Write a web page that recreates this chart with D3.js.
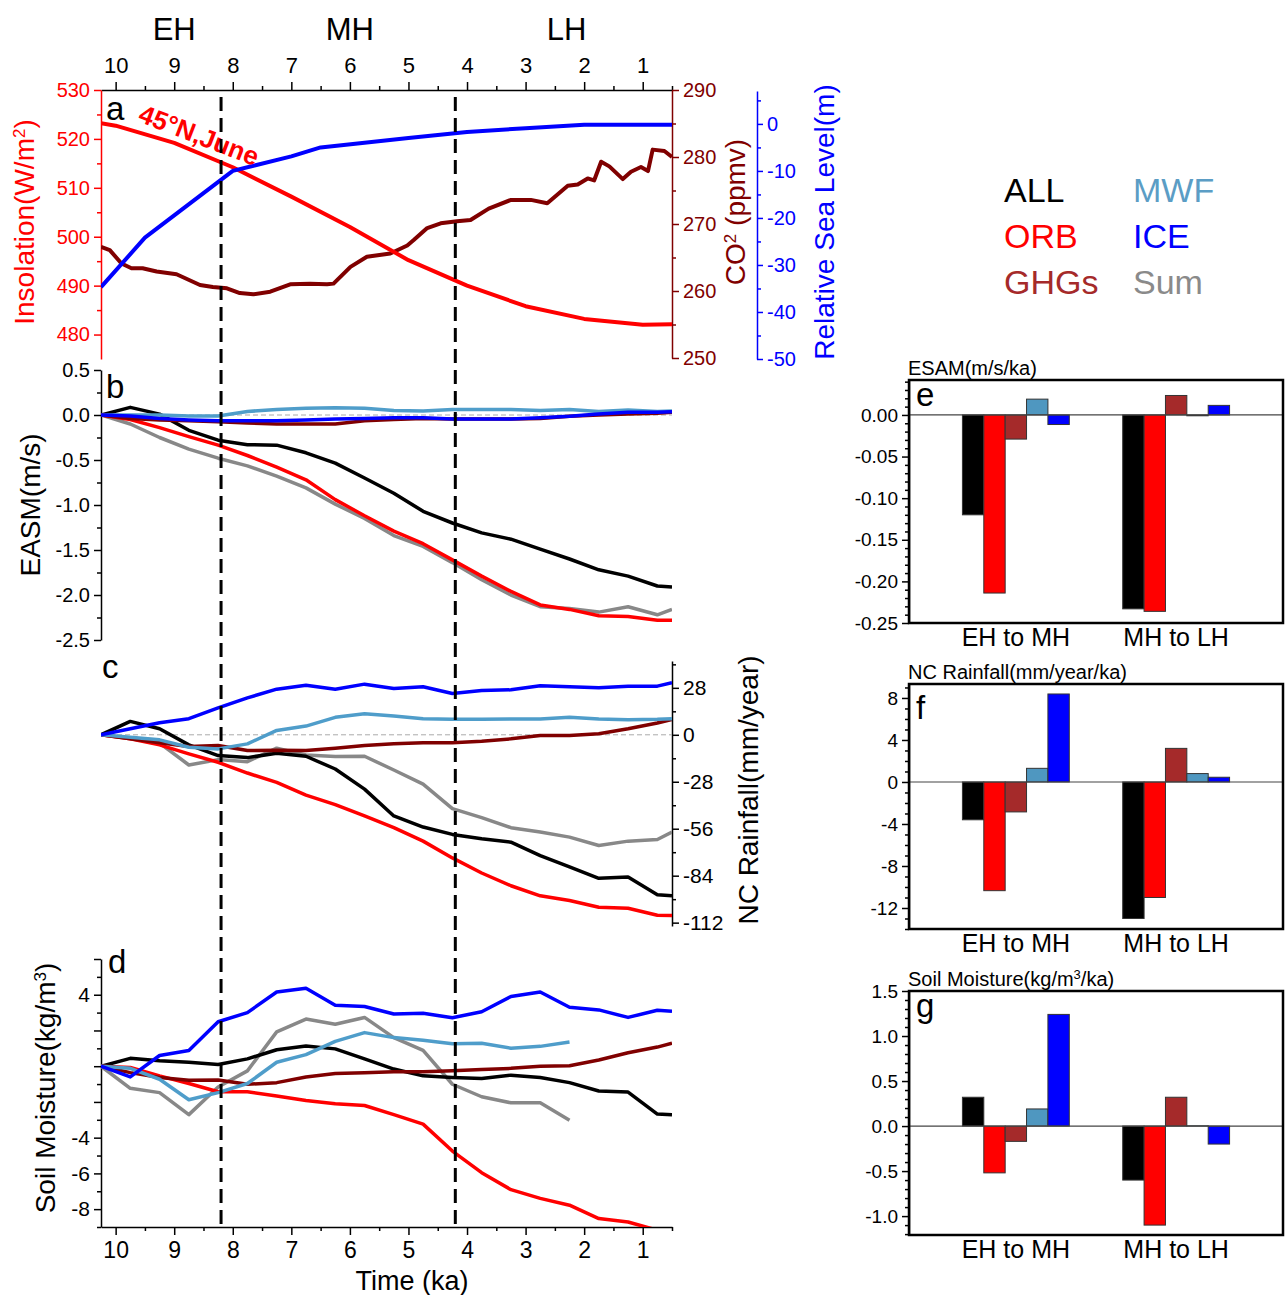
<!DOCTYPE html>
<html>
<head>
<meta charset="utf-8">
<script src="https://cdn.jsdelivr.net/npm/d3@7"></script>
<style>
body { margin: 0; background: #fff; }
svg { font-family: "Liberation Sans", Arial, Helvetica, sans-serif; }
</style>
</head>
<body>
<svg width="1287" height="1295"></svg>
<script>
// ---- panel a ----
const insTime = [10.25, 10, 9, 8, 7, 6, 5, 4, 3, 2, 1, 0.5];
const insVal = [523.2, 522.7, 519.2, 514.2, 508.2, 502.0, 495.2, 490.0, 485.8, 483.2, 482.0, 482.1];
const co2Time = [10.25, 10.10, 9.90, 9.73, 9.54, 9.30, 8.96, 8.56, 8.34, 8.10, 7.88, 7.65, 7.36, 7.02, 6.68, 6.39, 6.28, 5.99, 5.71, 5.31, 5.02, 4.91, 4.68, 4.45, 4.17, 3.94, 3.63, 3.25, 2.91, 2.63, 2.28, 2.11, 1.94, 1.83, 1.71, 1.57, 1.34, 1.20, 1.03, 0.91, 0.83, 0.63, 0.5];
const co2Val = [266.6, 266.1, 264.1, 263.4, 263.4, 262.9, 262.5, 260.9, 260.6, 260.4, 259.7, 259.5, 259.9, 261.0, 261.1, 261.0, 261.1, 263.6, 265.1, 265.6, 266.8, 267.6, 269.4, 270.1, 270.4, 270.6, 272.3, 273.6, 273.6, 273.1, 275.7, 275.9, 276.8, 276.5, 279.3, 278.6, 276.7, 277.8, 278.5, 277.9, 281.1, 280.9, 280.0];
const slTime = [10.25, 9.5, 8.0, 7.0, 6.5, 5.0, 4.0, 3.0, 2.0, 0.5];
const slVal = [-34.7, -24.2, -10.0, -6.9, -5.0, -3.0, -1.7, -0.9, -0.2, -0.2];

// ---- panels b, c, d (every 0.5 ka) ----
const times = [10.25, 9.75, 9.25, 8.75, 8.25, 7.75, 7.25, 6.75, 6.25, 5.75, 5.25, 4.75, 4.25, 3.75, 3.25, 2.75, 2.25, 1.75, 1.25, 0.75, 0.5];

const easmALL = [0, 0.085, 0.01, -0.17, -0.28, -0.33, -0.335, -0.42, -0.535, -0.70, -0.87, -1.07, -1.20, -1.31, -1.38, -1.49, -1.60, -1.72, -1.79, -1.90, -1.91];
const easmORB = [0, -0.05, -0.14, -0.24, -0.335, -0.45, -0.58, -0.72, -0.94, -1.12, -1.29, -1.43, -1.61, -1.79, -1.96, -2.11, -2.16, -2.23, -2.24, -2.28, -2.28];
const easmGHG = [0, -0.04, -0.055, -0.065, -0.075, -0.09, -0.10, -0.10, -0.10, -0.065, -0.05, -0.04, -0.045, -0.045, -0.045, -0.04, -0.015, 0, 0.01, 0.02, 0.03];
const easmMWF = [0, 0, 0, -0.01, -0.01, 0.04, 0.06, 0.075, 0.08, 0.075, 0.05, 0.045, 0.06, 0.06, 0.06, 0.05, 0.06, 0.04, 0.055, 0.04, 0.045];
const easmICE = [0, -0.01, -0.04, -0.055, -0.065, -0.065, -0.065, -0.055, -0.045, -0.04, -0.03, -0.03, -0.045, -0.045, -0.045, -0.03, -0.015, 0.01, 0.03, 0.03, 0.035];
const easmSum = [0, -0.10, -0.25, -0.38, -0.48, -0.565, -0.68, -0.81, -0.99, -1.15, -1.34, -1.46, -1.64, -1.83, -2.0, -2.13, -2.15, -2.19, -2.13, -2.22, -2.16];

const rainALL = [0, 8, 3.6, -6, -12.4, -13.6, -11, -12.8, -20.4, -32.4, -48.4, -55, -59.4, -62, -64, -72, -78.8, -85.6, -84.8, -95.4, -96];
const rainORB = [0, -2.4, -6, -11.4, -16.4, -22.8, -28.4, -36, -41.6, -48.4, -55.4, -63.4, -73.4, -82.4, -90, -96, -98.8, -102.8, -103.4, -107.6, -107.8];
const rainGHG = [0, -2.4, -4.8, -7, -6.4, -9.4, -9.2, -9.4, -8, -6.4, -5.4, -4.8, -4.8, -3.8, -2.4, -0.4, -0.4, 0.6, 3.6, 7, 9.2];
const rainMWF = [0, -1.4, -3, -7.4, -8.4, -5.4, 2.6, 5.2, 10.4, 12.6, 11.2, 9.6, 9.2, 9.2, 9.4, 9.4, 10.4, 9.4, 9, 9.2, 9.6];
const rainICE = [0, 3.6, 7.2, 9.6, 16, 22, 27.2, 29.6, 27.2, 30.2, 27.6, 28.6, 24.6, 26.4, 26.8, 29.2, 28.6, 28, 29, 29, 31];
const rainSum = [0, -2, -5, -18, -14.8, -16, -8, -12, -13, -12.8, -21, -29.4, -44, -49.4, -55.4, -58, -61, -66, -63.4, -62.4, -58];

const soilALL = [0, 0.44, 0.31, 0.22, 0.09, 0.41, 0.92, 1.13, 0.97, 0.41, -0.16, -0.54, -0.63, -0.69, -0.5, -0.63, -0.92, -1.39, -1.45, -2.68, -2.72];
const soilORB = [0, -0.07, -0.54, -0.97, -1.43, -1.43, -1.67, -1.92, -2.1, -2.2, -2.71, -3.24, -4.75, -5.96, -6.91, -7.4, -7.78, -8.53, -8.72, -9.18, -9.18];
const soilGHG = [0, -0.36, -0.63, -0.78, -0.77, -1.01, -0.92, -0.6, -0.41, -0.36, -0.31, -0.31, -0.26, -0.18, -0.12, 0, 0.03, 0.35, 0.75, 1.07, 1.29];
const soilMWF = [0, -0.12, -0.73, -1.88, -1.48, -0.97, 0.22, 0.65, 1.39, 1.88, 1.60, 1.45, 1.26, 1.29, 1.01, 1.11, 1.35];
const soilICE = [0, -0.6, 0.6, 0.88, 2.49, 3.0, 4.15, 4.36, 3.41, 3.34, 2.92, 2.96, 2.71, 3.05, 3.9, 4.15, 3.3, 3.15, 2.73, 3.13, 3.07];
const soilSum = [0, -1.24, -1.48, -2.71, -1.16, -0.26, 1.92, 2.64, 2.35, 2.73, 1.6, 0.88, -1.01, -1.71, -2.05, -2.05, -3.03];

// ---- bars e, f, g ----
const barCats = ["EH to MH", "MH to LH"];
const barNames = ["ALL", "ORB", "GHGs", "MWF", "ICE"];
const esamEH = [-0.120, -0.214, -0.029, 0.019, -0.0115];
const esamMH = [-0.233, -0.236, 0.0234, -0.001, 0.0115];
const rainEH = [-3.6, -10.35, -2.85, 1.3, 8.38];
const rainMH = [-13.0, -11.0, 3.2, 0.8, 0.45];
const soilEH = [0.32, -0.52, -0.17, 0.19, 1.24];
const soilMH = [-0.60, -1.10, 0.32, 0.003, -0.20];

const timeTicks = [10, 9, 8, 7, 6, 5, 4, 3, 2, 1];
const timeMinor = [9.5, 8.5, 7.5, 6.5, 5.5, 4.5, 3.5, 2.5, 1.5, 0.5];
const periods = ["EH", "MH", "LH"];
const periodPos = [9, 6, 2.3];
const events = [8.2, 4.2];

const legendNames = ["ALL", "ORB", "GHGs", "MWF", "ICE", "Sum"];

const cALL = "#000000", cORB = "#ff0000", cGHG = "#800000", cMWF = "#4f9dca", cICE = "#0000ff", cSum = "#888888";
const barColors = ["#000000", "#ff0000", "#a52a2a", "#4f97c0", "#0000ff"];
const legendColors = ["#000000", "#ff0000", "#a52a2a", "#5b9dc5", "#0000ff", "#8a8a8a"];

const FONT = '"Liberation Sans", Arial, Helvetica, sans-serif';
let svg = d3.select("svg");

let xT = d3.scaleLinear().domain([10.25, 0.5]).range([101, 672]);

let styleAxis = function (g, color, size) {
    g.attr("font-family", FONT).attr("font-size", size);
    g.select(".domain").attr("stroke", color).attr("stroke-width", 1.5);
    g.selectAll(".tick line").attr("stroke", color).attr("stroke-width", 1.5);
    g.selectAll(".tick text").attr("fill", color);
};
let minor = function (g, axisFn, scale, values, size, color) {
    let m = g.append("g").call(axisFn(scale).tickValues(values).tickSize(size).tickFormat(""));
    m.select(".domain").remove();
    m.selectAll(".tick line").attr("stroke", color).attr("stroke-width", 1.5);
};
// plain hyphen minus, no "-0"
let fmt = function (n) {
    return function (d) {
        let s = d.toFixed(n);
        return Math.abs(d) < 1e-9 ? s.replace("-", "") : s;
    };
};

svg.append("defs").append("clipPath").attr("id", "clipT")
    .append("rect").attr("x", 101).attr("y", 0).attr("width", 571).attr("height", 1227);

let drawLine = function (xs, ys, yScale, color, width) {
    let line = d3.line()
        .x(function (d, i) { return xT(xs[i]); })
        .y(function (d) { return yScale(d); });
    svg.append("path")
        .datum(ys)
        .attr("clip-path", "url(#clipT)")
        .attr("fill", "none")
        .attr("stroke", color)
        .attr("stroke-width", width)
        .attr("stroke-linejoin", "round")
        .attr("d", line);
};

// ================= panel a =================
let yIns = d3.scaleLinear().domain([475, 530]).range([359, 90]);
let yCO2 = d3.scaleLinear().domain([250, 290]).range([358, 90]);
let ySL = d3.scaleLinear().domain([-50, 7]).range([359, 91]);

let gTop = svg.append("g").attr("transform", "translate(0,90)");
gTop.call(d3.axisTop(xT).tickValues(timeTicks).tickSize(8).tickSizeOuter(0).tickPadding(9));
styleAxis(gTop, "#000", 22);
minor(gTop, d3.axisTop, xT, timeMinor, 4, "#000");

svg.selectAll("text.period")
    .data(periods)
    .enter()
    .append("text")
    .attr("class", "period")
    .attr("x", function (d, i) { return xT(periodPos[i]); })
    .attr("y", 40)
    .attr("text-anchor", "middle")
    .attr("font-size", 31)
    .text(function (d) { return d; });

let gIns = svg.append("g").attr("transform", "translate(101,0)");
gIns.call(d3.axisLeft(yIns).tickValues([480, 490, 500, 510, 520, 530]).tickSize(7).tickSizeOuter(0).tickPadding(4));
styleAxis(gIns, "#ff0000", 20);
minor(gIns, d3.axisLeft, yIns, [485, 495, 505, 515, 525], 4, "#ff0000");

let gCO2 = svg.append("g").attr("transform", "translate(672,0)");
gCO2.call(d3.axisRight(yCO2).tickValues([250, 260, 270, 280, 290]).tickSize(7).tickSizeOuter(0).tickPadding(4));
styleAxis(gCO2, "#800000", 20);
minor(gCO2, d3.axisRight, yCO2, [255, 265, 275, 285], 4, "#800000");

let gSL = svg.append("g").attr("transform", "translate(757,0)");
gSL.call(d3.axisRight(ySL).tickValues([0, -10, -20, -30, -40, -50]).tickSize(6).tickSizeOuter(0).tickPadding(4)
    .tickFormat(fmt(0)));
styleAxis(gSL, "#0000ff", 20);
minor(gSL, d3.axisRight, ySL, [5, -5, -15, -25, -35, -45], 4, "#0000ff");

drawLine(co2Time, co2Val, yCO2, "#800000", 4);
drawLine(insTime, insVal, yIns, "#ff0000", 4);
drawLine(slTime, slVal, ySL, "#0000ff", 4);

svg.append("text")
    .attr("x", 137).attr("y", 121)
    .attr("transform", "rotate(21,137,121)")
    .attr("fill", "#ff0000")
    .attr("font-weight", "bold")
    .attr("font-size", 26)
    .text("45°N,June");

// ================= panel b =================
let yB = d3.scaleLinear().domain([-2.5, 0.5]).range([640, 370]);
let gB = svg.append("g").attr("transform", "translate(101,0)");
gB.call(d3.axisLeft(yB).tickValues([0.5, 0, -0.5, -1, -1.5, -2, -2.5]).tickSize(7).tickSizeOuter(0).tickPadding(4).tickFormat(fmt(1)));
styleAxis(gB, "#000", 20);
minor(gB, d3.axisLeft, yB, [0.25, -0.25, -0.75, -1.25, -1.75, -2.25], 4, "#000");

svg.append("line").attr("x1", 101).attr("x2", 672).attr("y1", yB(0)).attr("y2", yB(0))
    .attr("stroke", "#aaa").attr("stroke-width", 1).attr("stroke-dasharray", "5,3");

drawLine(times, easmSum, yB, cSum, 3.5);
drawLine(times, easmALL, yB, cALL, 3.5);
drawLine(times, easmORB, yB, cORB, 3.5);
drawLine(times, easmMWF, yB, cMWF, 3.5);
drawLine(times, easmGHG, yB, cGHG, 3.5);
drawLine(times, easmICE, yB, cICE, 3.5);

// ================= panel c =================
let yC = d3.scaleLinear().domain([-114, 44]).range([926, 661]);
let gC = svg.append("g").attr("transform", "translate(672,0)");
gC.call(d3.axisRight(yC).tickValues([28, 0, -28, -56, -84, -112]).tickSize(7).tickSizeOuter(0).tickPadding(4)
    .tickFormat(fmt(0)));
styleAxis(gC, "#000", 21);
minor(gC, d3.axisRight, yC, [42, 14, -14, -42, -70, -98], 4, "#000");

svg.append("line").attr("x1", 101).attr("x2", 672).attr("y1", yC(0)).attr("y2", yC(0))
    .attr("stroke", "#aaa").attr("stroke-width", 1).attr("stroke-dasharray", "5,3");

drawLine(times, rainSum, yC, cSum, 3.5);
drawLine(times, rainALL, yC, cALL, 3.5);
drawLine(times, rainORB, yC, cORB, 3.5);
drawLine(times, rainGHG, yC, cGHG, 3.5);
drawLine(times, rainMWF, yC, cMWF, 3.5);
drawLine(times, rainICE, yC, cICE, 3.5);

// ================= panel d =================
let yD = d3.scaleLinear().domain([-9, 6]).range([1227, 959]);
let gD = svg.append("g").attr("transform", "translate(101,0)");
gD.call(d3.axisLeft(yD).tickValues([6, 4, 2, 0, -2, -4, -6, -8]).tickSize(7).tickSizeOuter(0).tickPadding(4)
    .tickFormat(function (d) { return (d === 4 || d <= -4) ? String(d) : ""; }));
styleAxis(gD, "#000", 21);
minor(gD, d3.axisLeft, yD, [5, 3, 1, -1, -3, -5, -7, -9], 4, "#000");

let gBot = svg.append("g").attr("transform", "translate(0,1227)");
gBot.call(d3.axisBottom(xT).tickValues(timeTicks).tickSize(8).tickSizeOuter(0).tickPadding(7));
styleAxis(gBot, "#000", 23);
minor(gBot, d3.axisBottom, xT, timeMinor, 4, "#000");

drawLine(times.slice(0, soilSum.length), soilSum, yD, cSum, 3.5);
drawLine(times, soilALL, yD, cALL, 3.5);
drawLine(times, soilORB, yD, cORB, 3.5);
drawLine(times, soilGHG, yD, cGHG, 3.5);
drawLine(times.slice(0, soilMWF.length), soilMWF, yD, cMWF, 3.5);
drawLine(times, soilICE, yD, cICE, 3.5);

svg.append("text").attr("x", 412).attr("y", 1290).attr("text-anchor", "middle")
    .attr("font-size", 27).text("Time (ka)");

// event lines
svg.selectAll("line.event")
    .data(events)
    .enter()
    .append("line")
    .attr("class", "event")
    .attr("x1", function (d) { return xT(d); })
    .attr("x2", function (d) { return xT(d); })
    .attr("y1", 97).attr("y2", 1228)
    .attr("stroke", "#000").attr("stroke-width", 3).attr("stroke-dasharray", "14,7");

// panel letters
let letters = [["a", 106, 120], ["b", 106, 398], ["c", 102, 678], ["d", 108, 973]];
svg.selectAll("text.letter")
    .data(letters)
    .enter()
    .append("text")
    .attr("class", "letter")
    .attr("x", function (d) { return d[1]; })
    .attr("y", function (d) { return d[2]; })
    .attr("font-size", 33)
    .text(function (d) { return d[0]; });

// axis titles
let vTitle = function (x, y, color, parts) {
    let t = svg.append("text")
        .attr("transform", "translate(" + x + "," + y + ")rotate(-90)")
        .attr("text-anchor", "middle")
        .attr("fill", color)
        .attr("font-size", 28);
    parts.forEach(function (p) {
        let s = t.append("tspan").text(p[0]);
        if (p[1]) s.attr("baseline-shift", "super").attr("font-size", 17);
    });
};
vTitle(34, 222, "#ff0000", [["Insolation(W/m"], ["2", true], [")"]]);
vTitle(745, 212, "#800000", [["CO"], ["2", true], [" (ppmv)"]]);
vTitle(834, 222, "#0000ff", [["Relative Sea Level(m)"]]);
vTitle(40, 505, "#000", [["EASM(m/s)"]]);
vTitle(758, 790, "#000", [["NC Rainfall(mm/year)"]]);
vTitle(55, 1088, "#000", [["Soil Moisture(kg/m"], ["3", true], [")"]]);

// legend
svg.selectAll("text.legend")
    .data(legendNames)
    .enter()
    .append("text")
    .attr("class", "legend")
    .attr("x", function (d, i) { return i < 3 ? 1004 : 1133; })
    .attr("y", function (d, i) { return 202 + (i % 3) * 46; })
    .attr("font-size", 34)
    .attr("fill", function (d, i) { return legendColors[i]; })
    .text(function (d) { return d; });

// ================= bar panels =================
let xBar = d3.scaleLinear().domain([0, 3.5]).range([909, 1283]);
let groupX = [1, 2.5];

let drawBars = function (top, bottom, domain, major, minorVals, nDec, ehVals, mhVals, titleParts, letter, letterY) {
    let y = d3.scaleLinear().domain(domain).range([bottom, top]);
    let g = svg.append("g");

    let ax = g.append("g").attr("transform", "translate(909,0)");
    ax.call(d3.axisLeft(y).tickValues(major).tickSize(7).tickSizeOuter(0).tickPadding(4).tickFormat(fmt(nDec)));
    styleAxis(ax, "#000", 19);
    minor(ax, d3.axisLeft, y, minorVals, 4, "#000");

    let rows = [ehVals, mhVals];
    rows.forEach(function (vals, gi) {
        g.selectAll("rect.b" + gi)
            .data(vals)
            .enter()
            .append("rect")
            .attr("class", "b" + gi)
            .attr("x", function (d, i) { return xBar(groupX[gi] - 0.5 + i * 0.2); })
            .attr("width", xBar(0.2) - xBar(0))
            .attr("y", function (d) { return y(Math.max(0, d)); })
            .attr("height", function (d) { return Math.abs(y(d) - y(0)); })
            .attr("fill", function (d, i) { return barColors[i]; })
            .attr("stroke", "#333")
            .attr("stroke-width", 1);
    });

    g.append("line").attr("x1", 909).attr("x2", 1283).attr("y1", y(0)).attr("y2", y(0))
        .attr("stroke", "#444").attr("stroke-width", 1.2);

    g.append("rect").attr("x", 909).attr("y", top).attr("width", 1283 - 909).attr("height", bottom - top)
        .attr("fill", "none").attr("stroke", "#000").attr("stroke-width", 2.5);

    g.selectAll("text.cat")
        .data(barCats)
        .enter()
        .append("text")
        .attr("class", "cat")
        .attr("x", function (d, i) { return xBar(groupX[i]); })
        .attr("y", bottom + 23)
        .attr("text-anchor", "middle")
        .attr("font-size", 25)
        .text(function (d) { return d; });

    let t = g.append("text").attr("x", 908).attr("y", top - 5).attr("font-size", 20);
    titleParts.forEach(function (p) {
        let s = t.append("tspan").text(p[0]);
        if (p[1]) s.attr("baseline-shift", "super").attr("font-size", 13);
    });

    g.append("text").attr("x", 916).attr("y", letterY).attr("font-size", 33).text(letter);
};

drawBars(380, 623, [-0.25, 0.042], [0, -0.05, -0.1, -0.15, -0.2, -0.25],
    [0.04, 0.03, 0.02, 0.01, -0.01, -0.02, -0.03, -0.04, -0.06, -0.07, -0.08, -0.09, -0.11, -0.12, -0.13, -0.14,
     -0.16, -0.17, -0.18, -0.19, -0.21, -0.22, -0.23, -0.24],
    2, esamEH, esamMH, [["ESAM(m/s/ka)"]], "e", 406);

drawBars(684, 929, [-14, 9.33], [8, 4, 0, -4, -8, -12],
    [9, 7, 6, 5, 3, 2, 1, -1, -2, -3, -5, -6, -7, -9, -10, -11, -13, -14],
    0, rainEH, rainMH, [["NC Rainfall(mm/year/ka)"]], "f", 719);

drawBars(991, 1235, [-1.21, 1.5], [1.5, 1, 0.5, 0, -0.5, -1],
    [1.4, 1.3, 1.2, 1.1, 0.9, 0.8, 0.7, 0.6, 0.4, 0.3, 0.2, 0.1, -0.1, -0.2, -0.3, -0.4,
     -0.6, -0.7, -0.8, -0.9, -1.1, -1.2],
    1, soilEH, soilMH, [["Soil Moisture(kg/m"], ["3", true], ["/ka)"]], "g", 1017);
</script>
</body>
</html>
